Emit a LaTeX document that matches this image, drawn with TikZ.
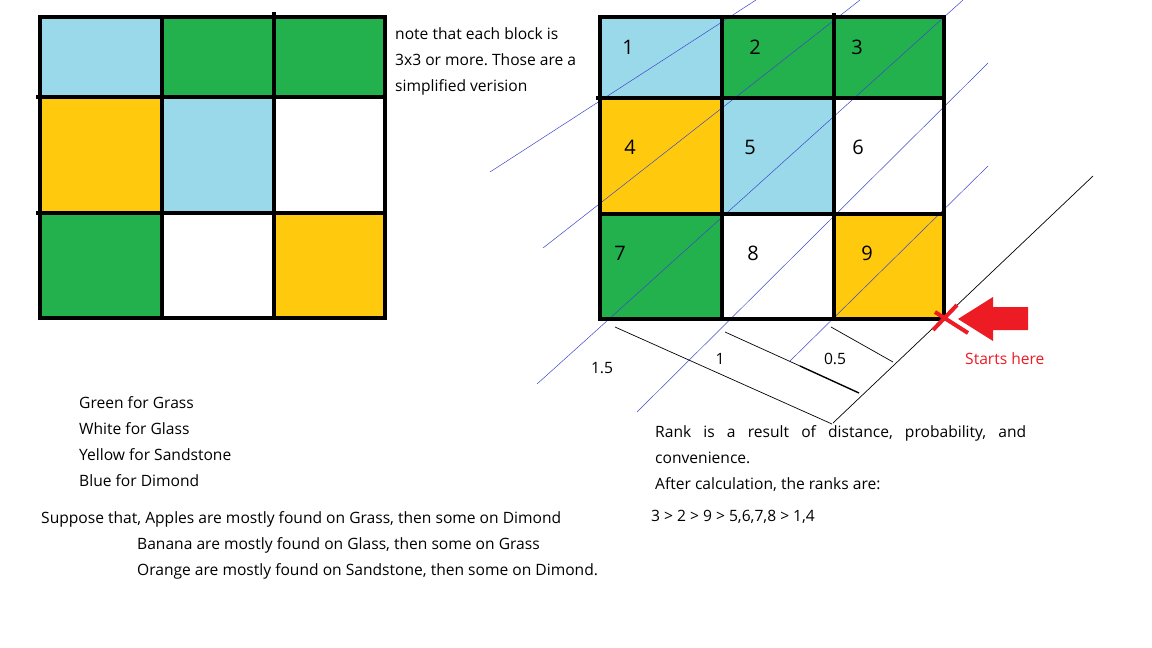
\documentclass[tikz,border=0pt]{standalone}
\usepackage{fontspec}
\setmainfont{Open Sans}
\definecolor{pblue}{HTML}{99D9EA}
\definecolor{pgreen}{HTML}{22B14C}
\definecolor{pyellow}{HTML}{FFC90E}
\definecolor{pred}{HTML}{ED1C24}
\definecolor{pindigo}{HTML}{3F48CC}
\frenchspacing
\begin{document}
\begin{tikzpicture}[x=1pt,y=-1pt,
  txt/.style={anchor=base west, inner sep=0pt, font=\fontsize{15.6}{18}\selectfont},
  num/.style={inner sep=0pt, font=\fontsize{20}{24}\selectfont},
  gridline/.style={line width=4pt},
  guide/.style={pindigo, line width=0.5pt},
  meas/.style={black, line width=0.7pt}]
\useasboundingbox[fill=white] (0,0) rectangle (1152,648);
% ---------- left grid ----------
\fill[pblue] (40,17) rectangle (162,97);
\fill[pgreen] (162,17) rectangle (385,97);
\fill[pyellow] (40,97) rectangle (162,213);
\fill[pblue] (162,97) rectangle (274,213);
\fill[pgreen] (40,213) rectangle (162,318);
\fill[pyellow] (274,213) rectangle (385,318);
\draw[gridline] (40,17) rectangle (385,318);
\draw[gridline] (162,17) -- (162,318);
\draw[gridline] (274,12) -- (274,318);
\draw[gridline] (36,97) -- (385,97);
\draw[gridline] (36,213) -- (385,213);
% ---------- right grid ----------
\fill[pblue] (600,17) rectangle (722,98);
\fill[pgreen] (722,17) rectangle (944,98);
\fill[pyellow] (600,98) rectangle (722,214);
\fill[pblue] (722,98) rectangle (834,214);
\fill[pgreen] (600,214) rectangle (722,319);
\fill[pyellow] (834,214) rectangle (944,319);
% guide lines
\draw[guide] (490,172) -- (756,0);
\draw[guide] (543,248) -- (860,0);
\draw[guide] (537,384) -- (963,0);
\draw[guide] (637,412) -- (988,63);
\draw[guide] (790,361) -- (988,166);
\draw[gridline] (600,17) rectangle (944,319);
\draw[gridline] (722,17) -- (722,319);
\draw[gridline] (834,13) -- (834,319);
\draw[gridline] (596,98) -- (944,98);
\draw[gridline] (600,214) -- (944,214);
% measurement lines
\draw[meas] (833,423) -- (1093,176);
\draw[meas] (615,327) -- (832,424);
\draw[meas] (725,332) -- (800,366);
\draw[black, line width=1.4pt] (800,366) -- (859,393);
\draw[meas] (831,327) -- (893,362);
% numbers
\node[num] (n1) at (628,47) {1};
\node[num] (n2) at (755,47) {2};
\node[num] (n3) at (857,47) {3};
\node[num] (n4) at (630,147) {4};
\node[num] (n5) at (750,147) {5};
\node[num] (n6) at (858,147) {6};
\node[num] (n7) at (620,253) {7};
\node[num] (n8) at (753,253) {8};
\node[num] (n9) at (867,253) {9};
\node[txt, anchor=base] (d15) at (602,373) {1.5};
\node[txt, anchor=base] (d1) at (720,364) {1};
\node[txt, anchor=base] (d05) at (835,364) {0.5};
% red mark and arrow
\draw[pred, line width=4pt] (933,330) -- (957,305);
\draw[pred, line width=4pt] (935,312) -- (968,333);
\fill[pred] (958,319) -- (993,297) -- (993,307) -- (1028,307) -- (1028,330) -- (993,330) -- (993,341) -- cycle;
\node[txt, text=pred] (start) at (965,364) {Starts here};
% texts
\node[txt] (note1) at (395,39) {note that each block is};
\node[txt] (note2) at (395,65) {3x3 or more. Those are a};
\node[txt] (note3) at (395,91) {simplified verision};
\node[txt] (leg1) at (79,408) {Green for Grass};
\node[txt] (leg2) at (79,434) {White for Glass};
\node[txt] (leg3) at (79,460) {Yellow for Sandstone};
\node[txt] (leg4) at (79,486) {Blue for Dimond};
\node[txt] (sup1) at (41,523) {Suppose that, Apples are mostly found on Grass, then some on Dimond};
\node[txt] (sup2) at (137,549) {Banana are mostly found on Glass, then some on Grass};
\node[txt] (sup3) at (137,575) {Orange are mostly found on Sandstone, then some on Dimond.};
\node[txt] (rank1) at (655,437) {\makebox[371pt][s]{Rank is a result of distance, probability, and}};
\node[txt] (rank2) at (655,463) {convenience.};
\node[txt] (rank3) at (655,489) {After calculation, the ranks are:};
\node[txt] (rank4) at (651,521) {3 > 2 > 9 > 5,6,7,8 > 1,4};
\end{tikzpicture}
\end{document}
